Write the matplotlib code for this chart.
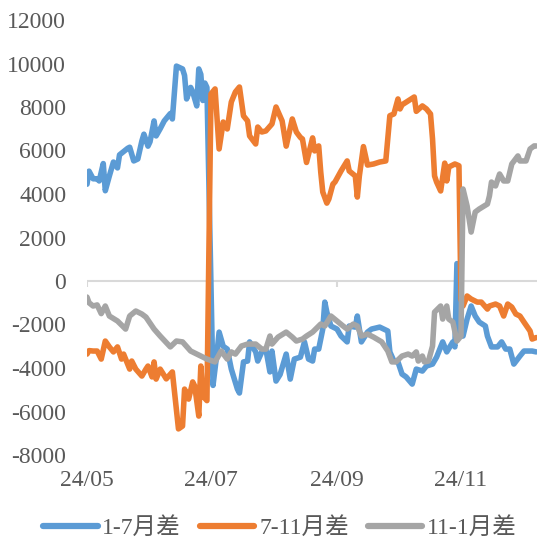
import matplotlib
matplotlib.use("Agg")
import matplotlib.pyplot as plt
import pandas as pd
import numpy as np

# ---- data (day offset from 2024-05-01, value) ----
start = pd.Timestamp("2024-05-01")

days_17 = [0, 1, 3, 5, 6, 8, 9, 11, 13, 15, 16, 18, 20, 21, 23, 25, 27, 28, 30, 31,
           33, 34, 36, 38, 41, 42, 44, 47, 48, 49, 51, 52, 54, 55, 56, 57, 58, 59, 62,
           64, 65, 67, 69, 71, 74, 75, 77, 79, 80, 83, 84, 86, 88, 90, 91, 93, 95, 98,
           100, 102, 105, 107, 109, 111, 112, 114, 116, 117, 118, 120, 123, 125, 128,
           129, 132, 133, 135, 138, 140, 144, 148, 149, 151, 153, 155, 157, 160, 162,
           165, 167, 170, 172, 175, 177, 180, 181, 182, 184, 185, 187, 189, 191, 193,
           196, 197, 199, 202, 204, 206, 208, 210, 213, 215, 219, 221]
vals_17 = [4450, 5050, 4700, 4700, 4600, 5400, 4150, 4830, 5470, 5200, 5800, 5950, 6100,
           6150, 5520, 5610, 6440, 6750, 6200, 6400, 7360, 6670, 7000, 7360, 7700, 7450,
           9880, 9750, 9450, 8370, 8900, 8700, 8050, 9750, 9500, 8300, 9100, 8900, -4800,
           -3260, -2350, -3000, -3130, -4050, -4970, -5150, -3720, -3680, -2800, -3260,
           -3680, -3260, -3130, -4180, -3220, -4600, -4300, -3360, -4510, -3590, -3500,
           -2800, -3590, -3680, -3130, -3130, -2210, -970, -1430, -2070, -2210, -2530,
           -2800, -2070, -2120, -1610, -2800, -2350, -2210, -2120, -2300, -3260, -3680,
           -3720, -4280, -4410, -4740, -4050, -4140, -3910, -3820, -3500, -2800, -3260,
           -2800, -3030, 800, -2530, -2530, -1750, -1150, -1610, -1890, -2070, -2530,
           -3030, -3030, -2800, -3130, -3130, -3820, -3450, -3220, -3220, -3260]

days_711 = [0, 1, 3, 5, 7, 9, 11, 13, 15, 17, 18, 21, 22, 24, 27, 29, 30, 32, 33, 34, 36,
            39, 42, 45, 47, 48, 50, 52, 53, 55, 56, 57, 59, 61, 63, 65, 67, 69, 71, 73,
            75, 77, 79, 80, 83, 84, 86, 88, 91, 93, 96, 98, 101, 103, 105, 106, 108, 111,
            112, 114, 115, 116, 118, 119, 121, 122, 125, 128, 129, 132, 133, 134, 136,
            138, 141, 144, 147, 149, 151, 153, 154, 155, 158, 161, 162, 165, 167, 169,
            170, 171, 172, 174, 176, 177, 178, 181, 183, 184, 185, 187, 189, 192, 194,
            197, 198, 201, 203, 205, 207, 209, 211, 213, 215, 218, 219, 221]
vals_711 = [-3360, -3200, -3220, -3220, -3590, -2760, -3030, -3260, -3030, -3590, -3360,
            -4050, -3680, -4050, -4370, -4050, -3910, -4410, -3720, -4510, -4050, -4500,
            -4180, -6800, -6670, -4970, -5430, -4640, -4830, -6210, -3910, -5290, -5500,
            8600, 8830, 6070, 7310, 6990, 8230, 8690, 8920, 7590, 7360, 6670, 6300, 7080,
            6850, 6900, 7220, 8000, 7360, 6200, 7450, 6850, 6600, 6530, 5450, 6580, 5980,
            6210, 5010, 4090, 3580, 3770, 4460, 4550, 5060, 5520, 5060, 4830, 3860, 4830,
            6180, 5330, 5380, 5470, 5520, 7600, 7680, 8370, 7910, 8100, 8280, 8460, 7800,
            8050, 7910, 7680, 6530, 4830, 4550, 4140, 5420, 4600, 5240, 5380, 5300, -830,
            -1150, -690, -830, -970, -970, -1290, -1150, -1060, -1150, -1610, -1060, -1200,
            -1520, -1610, -1890, -2300, -2670, -2600]

days_111 = [0, 1, 3, 5, 7, 9, 11, 15, 19, 21, 24, 27, 29, 33, 36, 41, 44, 47, 51, 56, 59,
            63, 66, 69, 71, 73, 76, 79, 83, 86, 88, 90, 91, 94, 98, 101, 103, 106, 108,
            111, 115, 117, 120, 123, 126, 128, 131, 133, 135, 138, 141, 145, 148, 150,
            152, 155, 158, 160, 162, 163, 165, 166, 168, 170, 171, 174, 175, 177, 178,
            180, 182, 184, 185, 187, 189, 191, 193, 197, 198, 199, 201, 203, 205, 207,
            209, 212, 213, 216, 218, 220, 221]
vals_111 = [-740, -1000, -1150, -1100, -1500, -1150, -1610, -1840, -2210, -1610, -1380,
            -1520, -1660, -2210, -2530, -3030, -2760, -2800, -3220, -3450, -3590, -3720,
            -3220, -3590, -3260, -3360, -2990, -2900, -2900, -3130, -3130, -2530, -2900,
            -2580, -2350, -2580, -2760, -2670, -2530, -2350, -1980, -2070, -1610, -1840,
            -2070, -2210, -1980, -2070, -2530, -2440, -2580, -2800, -3220, -3720, -3720,
            -3450, -3360, -3450, -3260, -3680, -3450, -3720, -3680, -2990, -1430, -1150,
            -1750, -1150, -1750, -1890, -2760, -2530, 4230, 3450, 2250, 3170, 3310, 3540,
            3910, 4550, 4370, 4920, 4600, 4600, 5380, 5750, 5520, 5520, 6070, 6210, 6210]

series_names = ["1-7月差", "7-11月差", "11-1月差"]
colors = ["#5B9BD5", "#ED7D31", "#A5A5A5"]
xtick_labels = ["24/05", "24/07", "24/09", "24/11"]
xtick_dates = ["2024-05-01", "2024-07-01", "2024-09-01", "2024-11-01"]
yticks = list(range(-8000, 12001, 2000))

# ---- plot ----
FONT = ["Liberation Serif", "Noto Sans CJK SC"]
plt.rcParams["font.family"] = FONT
plt.rcParams["axes.unicode_minus"] = False
TXT = "#595959"

fig = plt.figure(figsize=(5.39, 5.44), dpi=100)
ax = fig.add_axes([87 / 539, 1 - 455 / 544, 450 / 539, 435 / 544])

def to_dates(d):
    return start + pd.to_timedelta(np.array(d, dtype=float), unit="D")

ax.axhline(0, color="#D9D9D9", lw=1.5, zorder=1)
tick_d = pd.to_datetime(xtick_dates)
ax.vlines(tick_d, -280, 0, color="#D9D9D9", lw=1.5, zorder=1)

for d, v, name, c in zip([days_17, days_711, days_111], [vals_17, vals_711, vals_111],
                         series_names, colors):
    ax.plot(to_dates(d), v, color=c, lw=4.0, label=name,
            solid_joinstyle="round", solid_capstyle="round", zorder=2)

ax.set_xlim(start, start + pd.Timedelta(days=221.4))
ax.set_ylim(-8000, 12000)
ax.set_yticks(yticks)
ax.set_yticklabels([str(t) for t in yticks])
ax.set_xticks(tick_d)
ax.set_xticklabels(xtick_labels)
ax.tick_params(axis="both", length=0, labelsize=17, labelcolor=TXT)
ax.tick_params(axis="y", pad=15)
ax.tick_params(axis="x", pad=11)
for s in ax.spines.values():
    s.set_visible(False)

leg = fig.legend(loc="center", bbox_to_anchor=(280 / 539, 16 / 544), ncol=3,
                 frameon=False, fontsize=17, handlelength=2.3, handletextpad=0.2,
                 columnspacing=0.8, labelcolor=TXT)
for h in leg.get_lines():
    h.set_linewidth(4.5)
    h.set_solid_capstyle("round")

fig.savefig("out.png", dpi=100)
